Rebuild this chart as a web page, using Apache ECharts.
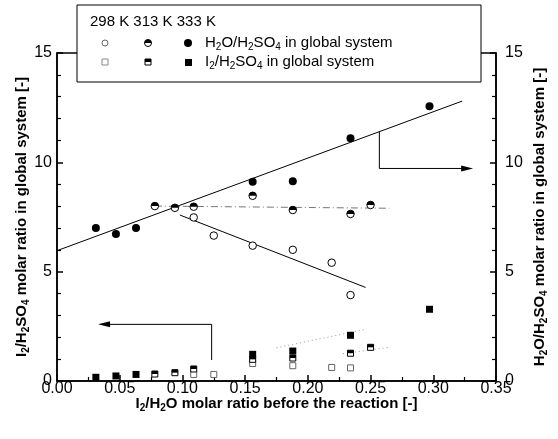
<!DOCTYPE html>
<html><head><meta charset="utf-8">
<script src="https://cdn.jsdelivr.net/npm/echarts@6/dist/echarts.min.js"></script>
<style>html,body{margin:0;padding:0;background:#fff}#c{width:558px;height:439px}</style>
</head><body><div id="c"></div>
<script>
// ---- data ----
const xTickValues = [0.00,0.05,0.10,0.15,0.20,0.25,0.30,0.35];
const yTickValues = [0,5,10,15];
// H2O/H2SO4 (right axis)
const x333H = [0.031,0.047,0.063,0.156,0.188,0.234,0.297];
const y333H = [7.0,6.72,7.0,9.11,9.14,11.1,12.57];
const x313H = [0.078,0.094,0.109,0.156,0.188,0.234,0.250];
const y313H = [8.0,7.92,7.97,8.47,7.82,7.64,8.05];
const x298H = [0.109,0.125,0.156,0.188,0.219,0.234];
const y298H = [7.48,6.65,6.19,6.0,5.41,3.93];
// I2/H2SO4 (left axis)
const x333I = [0.031,0.047,0.063,0.156,0.188,0.234,0.297];
const y333I = [0.17,0.23,0.30,1.22,1.37,2.09,3.28];
const x313I = [0.078,0.094,0.109,0.156,0.188,0.234,0.250];
const y313I = [0.32,0.38,0.55,0.99,1.05,1.27,1.54];
const x298I = [0.109,0.125,0.156,0.188,0.219,0.234];
const y298I = [0.30,0.30,0.80,0.70,0.62,0.60];
// fitted lines
const fit333H = [[0,5.96],[0.323,12.8]];
const fit313H = [[0.078,8.0],[0.265,7.9]];
const fit298H = [[0.098,7.59],[0.246,4.28]];
const fit333I = [[0.175,1.52],[0.245,2.35]];
const fit313I = [[0.228,1.25],[0.266,1.55]];
// annotation arrows
const arrowRight = [[0.257,11.4],[0.257,9.72],[0.327,9.72]];
const arrowLeft = [[0.1233,0.96],[0.1233,2.59],[0.0375,2.59]];

const FF = 'Arial, "Liberation Sans", Helvetica, sans-serif';
const zip = (xs, ys) => xs.map((x, i) => [x, ys[i]]);
const rich = {
  b: {fontFamily: FF, fontWeight: 'bold', fontSize: 15, color: '#000'},
  s: {fontFamily: FF, fontWeight: 'bold', fontSize: 10, color: '#000', padding: [8,0,0,0]}
};
const richN = {
  n: {fontFamily: FF, fontSize: 15, color: '#000'},
  s: {fontFamily: FF, fontSize: 10, color: '#000', padding: [8,0,0,0]}
};
const HALF_C = 'path://M0,10 A10,10 0 0 1 20,10 Z';
const HALF_S = 'path://M0,0 L10,0 L10,5 L0,5 Z';

function scat(name, data, yi, symbol, size, fill, stroke, extra) {
  return Object.assign({
    name, type: 'scatter', data, yAxisIndex: yi, symbol, symbolSize: size,
    itemStyle: {color: fill, borderColor: stroke, borderWidth: stroke ? 1 : 0, opacity: 1},
    z: 5, silent: true
  }, extra || {});
}
function line(data, yi, color, type, width, extra) {
  return Object.assign({
    type: 'line', data, yAxisIndex: yi, symbol: 'none', silent: true,
    lineStyle: {color, type, width}, z: 3
  }, extra || {});
}
function arrow(pts, yi, rot) {
  const d = pts.map((p, i) => i === pts.length - 1
    ? {value: p, symbol: 'triangle', symbolSize: [6, 12], symbolRotate: rot}
    : {value: p, symbol: 'none'});
  return {type: 'line', data: d, yAxisIndex: yi, showSymbol: true, silent: true,
    lineStyle: {color: '#000', width: 1}, itemStyle: {color: '#000'}, z: 4};
}

const chart = echarts.init(document.getElementById('c'), null, {renderer: 'canvas'});
const axisCommon = {
  min: 0, max: 15, interval: 5,
  axisLine: {show: true, lineStyle: {color: '#000', width: 1.5}},
  axisTick: {show: true, inside: true, length: 6, lineStyle: {color: '#000', width: 1.5}},
  minorTick: {show: true, splitNumber: 5, length: 4, lineStyle: {color: '#000', width: 1.2}},
  splitLine: {show: false},
  nameLocation: 'middle', nameRotate: 90, nameMoveOverlap: false,
  nameTextStyle: {rich}
};
chart.setOption({
  animation: false,
  backgroundColor: '#fff',
  grid: {left: 57, right: 62, top: 53, bottom: 58, show: true, borderColor: '#000', borderWidth: 1.5, backgroundColor: 'transparent'},
  xAxis: {
    type: 'value', min: 0, max: 0.35, interval: 0.05,
    axisLine: {show: true, onZero: false, lineStyle: {color: '#000', width: 1.5}},
    axisTick: {show: true, inside: true, length: 6, lineStyle: {color: '#000', width: 1.5}},
    minorTick: {show: true, splitNumber: 2, length: 4, lineStyle: {color: '#000', width: 1.2}},
    splitLine: {show: false},
    axisLabel: {fontFamily: FF, fontSize: 16, color: '#000', margin: 0,
      formatter: v => { const t = xTickValues.find(x => Math.abs(x - v) < 1e-9); return (t === undefined ? v : t).toFixed(2); }},
    name: '{b|I}{s|2}{b|/H}{s|2}{b|O molar ratio before the reaction [-]}',
    nameLocation: 'middle', nameGap: 14, nameMoveOverlap: false, nameTextStyle: {rich}
  },
  yAxis: [
    Object.assign({}, axisCommon, {
      type: 'value', position: 'left',
      axisLabel: {fontFamily: FF, fontSize: 16, color: '#000', margin: 5,
        formatter: v => String(yTickValues.find(y => y === v) ?? v)},
      name: '{b|I}{s|2}{b|/H}{s|2}{b|SO}{s|4}{b| molar ratio in global system [-]}',
      nameGap: 26
    }),
    Object.assign({}, axisCommon, {
      type: 'value', position: 'right',
      axisLabel: {fontFamily: FF, fontSize: 16, color: '#000', margin: 9,
        formatter: v => String(yTickValues.find(y => y === v) ?? v)},
      name: '{b|H}{s|2}{b|O/H}{s|2}{b|SO}{s|4}{b| molar ratio in global system [-]}',
      nameGap: 35
    })
  ],
  series: [
    line(fit333H, 1, '#000', 'solid', 1),
    line(fit313H, 1, '#777', [7, 3, 1, 3], 1),
    line(fit298H, 1, '#000', 'solid', 1),
    line(fit333I, 0, '#999', [1, 3], 1),
    line(fit313I, 0, '#999', [1, 3], 1),
    arrow(arrowRight, 1, -90),
    arrow(arrowLeft, 0, 90),
    // H2O/H2SO4 circles
    scat('298 K H2O', zip(x298H, y298H), 1, 'circle', 7.5, '#fff', '#000'),
    scat('313 K H2O', zip(x313H, y313H), 1, 'circle', 7.5, '#fff', '#000'),
    scat('313 K H2O top', zip(x313H, y313H), 1, HALF_C, [7.5, 3.75], '#000', null, {symbolOffset: [0, -1.875], z: 6}),
    scat('333 K H2O', zip(x333H, y333H), 1, 'circle', 8, '#000', null),
    // I2/H2SO4 squares
    scat('298 K I2', zip(x298I, y298I), 0, 'rect', 6, '#fff', '#666'),
    scat('313 K I2', zip(x313I, y313I), 0, 'rect', 6, '#fff', '#000'),
    scat('313 K I2 top', zip(x313I, y313I), 0, HALF_S, [6, 3], '#000', null, {symbolOffset: [0, -1.5], z: 6}),
    scat('333 K I2', zip(x333I, y333I), 0, 'rect', 7, '#000', null)
  ],
  graphic: [
    {type: 'rect', shape: {x: 77, y: 5, width: 404, height: 77}, style: {fill: '#fff', stroke: '#000', lineWidth: 1}, z: 100},
    {type: 'text', x: 90, y: 22, style: {text: '298 K 313 K 333 K', font: '15px ' + FF, fill: '#000', verticalAlign: 'middle'}, z: 101},
    {type: 'circle', shape: {cx: 105, cy: 43, r: 3}, style: {fill: '#fff', stroke: '#666', lineWidth: 1}, z: 101},
    {type: 'circle', shape: {cx: 148, cy: 43, r: 3.5}, style: {fill: '#fff', stroke: '#000', lineWidth: 1}, z: 101},
    {type: 'sector', shape: {cx: 148, cy: 43, r: 3.5, r0: 0, startAngle: Math.PI, endAngle: 2 * Math.PI}, style: {fill: '#000'}, z: 102},
    {type: 'circle', shape: {cx: 188, cy: 43, r: 4}, style: {fill: '#000'}, z: 101},
    {type: 'rect', shape: {x: 102, y: 59, width: 6, height: 6}, style: {fill: '#fff', stroke: '#888', lineWidth: 1}, z: 101},
    {type: 'rect', shape: {x: 145, y: 59, width: 6, height: 6}, style: {fill: '#fff', stroke: '#000', lineWidth: 1}, z: 101},
    {type: 'rect', shape: {x: 145, y: 59, width: 6, height: 3}, style: {fill: '#000'}, z: 102},
    {type: 'rect', shape: {x: 185, y: 59, width: 7, height: 7}, style: {fill: '#000'}, z: 101},
    {type: 'text', x: 205, y: 43, style: {text: '{n|H}{s|2}{n|O/H}{s|2}{n|SO}{s|4}{n| in global system}', rich: richN, verticalAlign: 'middle'}, z: 101},
    {type: 'text', x: 205, y: 62, style: {text: '{n|I}{s|2}{n|/H}{s|2}{n|SO}{s|4}{n| in global system}', rich: richN, verticalAlign: 'middle'}, z: 101}
  ]
});
</script></body></html>
